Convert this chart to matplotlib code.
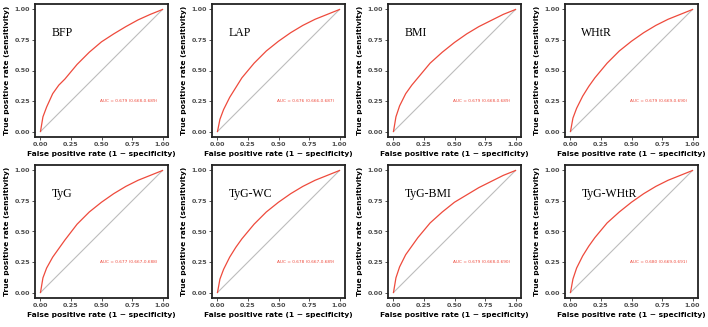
import numpy as np
import matplotlib.pyplot as plt

names = ['BFP', 'LAP', 'BMI', 'WHtR', 'TyG', 'TyG-WC', 'TyG-BMI', 'TyG-WHtR']
auc_text = ['AUC = 0.679 (0.668-0.689)', 'AUC = 0.676 (0.666-0.687)',
            'AUC = 0.679 (0.668-0.689)', 'AUC = 0.679 (0.669-0.690)',
            'AUC = 0.677 (0.667-0.688)', 'AUC = 0.678 (0.667-0.689)',
            'AUC = 0.679 (0.668-0.690)', 'AUC = 0.680 (0.669-0.691)']

fpr = [0.0, 0.02, 0.05, 0.1, 0.15, 0.2, 0.3, 0.4, 0.5, 0.6, 0.7, 0.8, 0.9, 1.0]
tpr = {
    'BFP':      [0.0, 0.12, 0.20, 0.31, 0.38, 0.43, 0.55, 0.65, 0.735, 0.80, 0.86, 0.915, 0.96, 1.0],
    'LAP':      [0.0, 0.10, 0.18, 0.28, 0.36, 0.44, 0.56, 0.66, 0.74, 0.81, 0.87, 0.92, 0.96, 1.0],
    'BMI':      [0.0, 0.12, 0.21, 0.31, 0.38, 0.44, 0.56, 0.65, 0.73, 0.80, 0.86, 0.91, 0.96, 1.0],
    'WHtR':     [0.0, 0.11, 0.19, 0.29, 0.37, 0.44, 0.56, 0.66, 0.74, 0.81, 0.87, 0.92, 0.96, 1.0],
    'TyG':      [0.0, 0.12, 0.20, 0.29, 0.36, 0.43, 0.56, 0.66, 0.74, 0.81, 0.87, 0.92, 0.96, 1.0],
    'TyG-WC':   [0.0, 0.11, 0.19, 0.29, 0.37, 0.44, 0.56, 0.66, 0.74, 0.81, 0.87, 0.92, 0.96, 1.0],
    'TyG-BMI':  [0.0, 0.12, 0.21, 0.31, 0.38, 0.45, 0.57, 0.66, 0.74, 0.80, 0.86, 0.91, 0.96, 1.0],
    'TyG-WHtR': [0.0, 0.11, 0.20, 0.30, 0.38, 0.45, 0.57, 0.66, 0.74, 0.81, 0.87, 0.92, 0.96, 1.0],
}
ticks = [0.0, 0.25, 0.5, 0.75, 1.0]
tick_labels = ['0.00', '0.25', '0.50', '0.75', '1.00']

fig = plt.figure(figsize=(7.08, 3.27), dpi=100)
W, H = 708, 327
lefts = [35, 212, 388, 565]
tops = [4, 165]
aw, ah = 133, 133

for i, name in enumerate(names):
    r, c = divmod(i, 4)
    ax = fig.add_axes([lefts[c] / W, 1 - (tops[r] + ah) / H, aw / W, ah / H])
    ax.plot([0, 1], [0, 1], color='#bdbdbd', lw=0.8)
    ax.plot(fpr, tpr[name], color='#ee4a3c', lw=0.9)
    ax.set_xlim(-0.045, 1.045)
    ax.set_ylim(-0.045, 1.045)
    ax.set_xticks(ticks)
    ax.set_xticklabels(tick_labels)
    ax.set_yticks(ticks)
    ax.set_yticklabels(tick_labels)
    ax.tick_params(labelsize=4.6, colors='#333333', length=2, width=0.6, pad=1.5)
    for lab in ax.get_xticklabels() + ax.get_yticklabels():
        lab.set_fontweight('bold')
        lab.set_color('#4d4d4d')
    for s in ax.spines.values():
        s.set_linewidth(1.3)
        s.set_color('#222222')
    ax.set_xlabel('False positive rate (1 \u2212 specificity)', fontsize=5.4,
                  fontweight='bold', labelpad=3)
    ax.set_ylabel('True positive rate (sensitivity)', fontsize=5.4,
                  fontweight='bold', labelpad=3)
    ax.text(0.09, 0.78, name, family='Liberation Serif', fontsize=8.5)
    ax.text(0.72, 0.25, auc_text[i], color='#ee4a3c', fontsize=3.1,
            ha='center', va='center')

fig.savefig('out.png', dpi=100)
